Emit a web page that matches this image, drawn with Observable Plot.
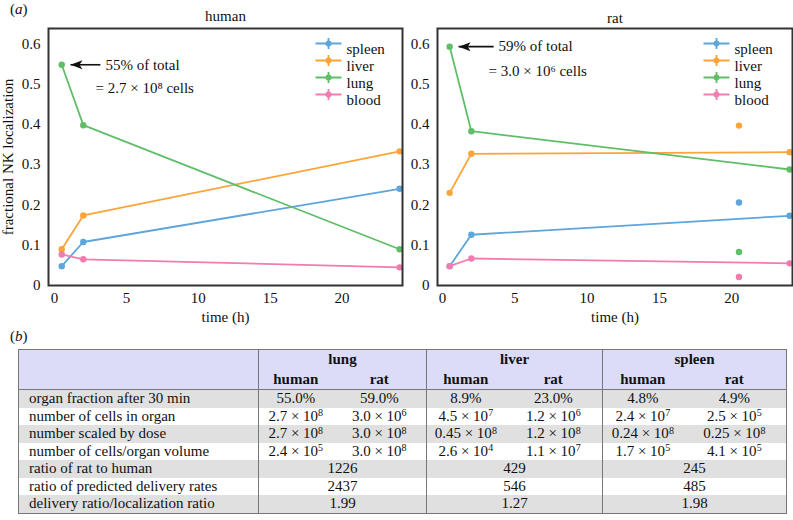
<!DOCTYPE html>
<html>
<head>
<meta charset="utf-8">
<script src="https://cdn.jsdelivr.net/npm/d3@7"></script>
<script src="https://cdn.jsdelivr.net/npm/@observablehq/plot@0.6"></script>
<style>
  body { margin: 0; background: #fff; }
  #root { position: relative; width: 793px; height: 520px; font-family: "Liberation Serif", "Times New Roman", serif; color: #111; }
  .abs { position: absolute; }
  .panel-tag { font-size: 15px; }
  table { border-collapse: collapse; table-layout: fixed; font-size: 15px; font-family: "Liberation Serif", "Times New Roman", serif; }
  td, th { padding: 0; line-height: 17px; height: 17.5px; white-space: nowrap; }
  th { font-weight: bold; height: 19.5px; }
  thead tr { background: #dcdcf8; }
  tbody tr:nth-child(odd) { background: #e0e0e0; }
  tbody tr:nth-child(even) { background: #ffffff; }
  td.lab { text-align: left; padding-left: 10px; }
  td.c, th.c { text-align: center; }
  .gl { border-left: 1px solid #777; }
  sup { font-size: 10px; position: relative; top: -0.45em; vertical-align: baseline; line-height: 0; }
  svg text { font-family: "Liberation Serif", "Times New Roman", serif; }
</style>
</head>
<body>
<div id="root">
  <div class="abs panel-tag" style="left:10px; top:1px;">(<i>a</i>)</div>
  <div id="left" class="abs" style="left:0; top:0;"></div>
  <div id="right" class="abs" style="left:405px; top:0;"></div>
  <div class="abs panel-tag" style="left:10px; top:328px;">(<i>b</i>)</div>
  <div id="tbl" class="abs" style="left:18px; top:349px;"></div>
</div>
<script>
// ---------- chart data ----------
const organs = ["spleen", "liver", "lung", "blood"];
const organColors = ["#5DA5DA", "#FAA43A", "#60BD68", "#F17CB0"];
const times = [0.5, 2, 24];

const humanSpleen = [0.048, 0.108, 0.240];
const humanLiver  = [0.090, 0.174, 0.333];
const humanLung   = [0.548, 0.398, 0.090];
const humanBlood  = [0.077, 0.065, 0.045];

const ratSpleen = [0.048, 0.126, 0.173];
const ratLiver  = [0.230, 0.327, 0.331];
const ratLung   = [0.593, 0.383, 0.288];
const ratBlood  = [0.048, 0.067, 0.055];

const ratExtraTime = 20.5;
const ratExtra = [0.206, 0.397, 0.083, 0.021]; // spleen, liver, lung, blood

const yTicks = [0, 0.1, 0.2, 0.3, 0.4, 0.5, 0.6];
const xTicks = [0, 5, 10, 15, 20];

// annotation: arrow start/end (x) at y, and text lines
const humanAnnot = {x1: 3.19, x2: 1.11, y: 0.548, line1: "55% of total", l1x: 3.54, l1y: 0.548, line2: "= 2.7 × 10⁸ cells", l2x: 2.85, l2y: 0.491};
const ratAnnot   = {x1: 3.54, x2: 1.12, y: 0.593, line1: "59% of total", l1x: 3.88, l1y: 0.593, line2: "= 3.0 × 10⁶ cells", l2x: 3.19, l2y: 0.533};

// ---------- table data ----------
const groups = ["lung", "liver", "spleen"];
const species = ["human", "rat"];
const rowLabels = [
  "organ fraction after 30 min",
  "number of cells in organ",
  "number scaled by dose",
  "number of cells/organ volume",
  "ratio of rat to human",
  "ratio of predicted delivery rates",
  "delivery ratio/localization ratio"
];
const organFraction = ["55.0%", "59.0%", "8.9%", "23.0%", "4.8%", "4.9%"];
const cellsInOrgan   = [["2.7", 8], ["3.0", 6], ["4.5", 7], ["1.2", 6], ["2.4", 7], ["2.5", 5]];
const scaledByDose   = [["2.7", 8], ["3.0", 8], ["0.45", 8], ["1.2", 8], ["0.24", 8], ["0.25", 8]];
const cellsPerVolume = [["2.4", 5], ["3.0", 8], ["2.6", 4], ["1.1", 7], ["1.7", 5], ["4.1", 5]];
const ratioRatHuman  = ["1226", "429", "245"];
const ratioDelivery  = ["2437", "546", "485"];
const deliveryOverLoc = ["1.99", "1.27", "1.98"];

// ---------- charts ----------
function series(vals) {
  const out = [];
  organs.forEach((o, i) => vals[i].forEach((v, j) => out.push({organ: o, t: times[j], v})));
  return out;
}

const legendSymbol = {
  draw(ctx) {
    ctx.moveTo(-13, 0); ctx.lineTo(13, 0);
    ctx.moveTo(0, -5.5); ctx.lineTo(0, 5.5);
  }
};
const arrowHead = {
  draw(ctx) {
    ctx.moveTo(0, 0); ctx.lineTo(12, -4.5); ctx.lineTo(9, 0); ctx.lineTo(12, 4.5); ctx.closePath();
  }
};

const yFormat = d => d === 0 ? "0" : d3.format(".1f")(d);
const FONT = "'Liberation Serif', 'Times New Roman', serif";

function panel({data, extra, xDomain, width, marginLeft, marginRight, title, ylabel, annot, legendDx, titleDy}) {
  const legendRows = [15, 32, 49, 66];
  const legendMarks = organs.flatMap((o, i) => [
    Plot.dot([{organ: o}], {frameAnchor: "top-right", dx: legendDx, dy: legendRows[i], symbol: legendSymbol, stroke: "organ", fill: "none", strokeWidth: 1.8}),
    Plot.dot([{organ: o}], {frameAnchor: "top-right", dx: legendDx, dy: legendRows[i], fill: "organ", r: 3}),
    Plot.text([o], {frameAnchor: "top-right", dx: legendDx + 18, dy: legendRows[i], text: d => d, textAnchor: "start", fontSize: 15, fill: "#111"})
  ]);
  return Plot.plot({
    width, height: 330,
    marginLeft, marginRight, marginTop: 28, marginBottom: 45,
    style: {fontFamily: FONT, fontSize: "15px", background: "transparent", color: "#111", overflow: "visible"},
    x: {domain: xDomain},
    y: {domain: [0, 0.638]},
    color: {domain: organs, range: organColors},
    marks: [
      Plot.axisX({ticks: xTicks, tickSize: 0, tickPadding: 7, label: "time (h)", labelAnchor: "center", labelArrow: "none", labelOffset: 36, fontSize: 15}),
      Plot.axisY({ticks: yTicks, tickFormat: yFormat, tickSize: 0, tickPadding: 8, label: ylabel, labelAnchor: "center", labelArrow: "none", labelOffset: 46, fontSize: 15}),
      Plot.line(data, {x: "t", y: "v", z: "organ", stroke: "organ", strokeWidth: 1.8}),
      Plot.dot(data, {x: "t", y: "v", fill: "organ", r: 3.2}),
      ...(extra ? [Plot.dot(extra, {x: "t", y: "v", fill: "organ", r: 3.2})] : []),
      Plot.link([annot], {x1: "x1", x2: "x2", y1: "y", y2: "y", stroke: "#111", strokeWidth: 1.6, insetEnd: 6}),
      Plot.dot([annot], {x: "x2", y: "y", symbol: arrowHead, fill: "#111", stroke: "none"}),
      Plot.text([annot], {x: "l1x", y: "l1y", text: "line1", textAnchor: "start", fontSize: 15, fill: "#111"}),
      Plot.text([annot], {x: "l2x", y: "l2y", text: "line2", textAnchor: "start", fontSize: 15, fill: "#111"}),
      ...legendMarks,
      Plot.text([title], {frameAnchor: "top", dy: titleDy, text: d => d, fontSize: 15, fill: "#111"}),
      Plot.frame({stroke: "#333", strokeWidth: 2})
    ]
  });
}

const humanData = series([humanSpleen, humanLiver, humanLung, humanBlood]);
const ratData = series([ratSpleen, ratLiver, ratLung, ratBlood]);
const ratExtraData = organs.map((o, i) => ({organ: o, t: ratExtraTime, v: ratExtra[i]}));

document.getElementById("left").append(panel({
  data: humanData, xDomain: [-0.42, 24.2], width: 405, marginLeft: 48, marginRight: 3,
  title: "human", ylabel: "fractional NK localization", annot: humanAnnot, legendDx: -74, titleDy: -18
}));
document.getElementById("right").append(panel({
  data: ratData, extra: ratExtraData, xDomain: [-0.34, 24.2], width: 388, marginLeft: 32, marginRight: 1,
  title: "rat", ylabel: null, annot: ratAnnot, legendDx: -76, titleDy: -16
}));

// ---------- table ----------
const colWidths = [240, 74, 94, 78, 98, 80, 104];
const sci = ([m, e]) => `${m} × 10<sup>${e}</sup>`;
let html = `<table style="width:768px; border:1px solid #777;"><colgroup>${colWidths.map(w => `<col style="width:${w}px">`).join("")}</colgroup>`;
html += `<thead><tr><th style="border-bottom:0"></th>${groups.map(g => `<th class="c gl" colspan="2">${g}</th>`).join("")}</tr>`;
html += `<tr style="border-bottom:1px solid #777"><th></th>${groups.map(() => species.map((s, k) => `<th class="c${k === 0 ? " gl" : ""}">${s}</th>`).join("")).join("")}</tr></thead><tbody>`;
const perCol = [organFraction, cellsInOrgan.map(sci), scaledByDose.map(sci), cellsPerVolume.map(sci)];
perCol.forEach((vals, r) => {
  html += `<tr><td class="lab">${rowLabels[r]}</td>${vals.map((v, k) => `<td class="c${k % 2 === 0 ? " gl" : ""}">${v}</td>`).join("")}</tr>`;
});
[ratioRatHuman, ratioDelivery, deliveryOverLoc].forEach((vals, r) => {
  html += `<tr><td class="lab">${rowLabels[r + 4]}</td>${vals.map(v => `<td class="c gl" colspan="2">${v}</td>`).join("")}</tr>`;
});
html += `</tbody></table>`;
document.getElementById("tbl").innerHTML = html;
</script>
</body>
</html>
